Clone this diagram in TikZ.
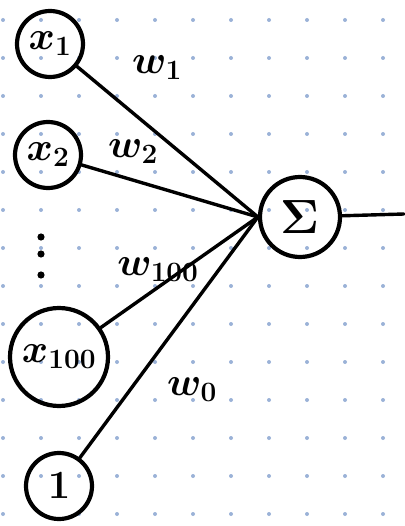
\RequirePackage{fix-cm}
\documentclass[tikz,border=0pt]{standalone}
\definecolor{gridblue}{RGB}{155,178,215}
\begin{document}
\begin{tikzpicture}
    [x=1pt, y=-1pt,
    unit/.style={draw, circle, line width=4.2pt, inner sep=0pt, font=\fontsize{40}{40}\selectfont\boldmath},
    weight/.style={font=\fontsize{40}{40}\selectfont\boldmath, inner sep=0pt},
    link/.style={line width=3.4pt, line cap=round}]
    \useasboundingbox (0,0) rectangle (404,526);
    % dotted paper
    \foreach \i in {0,...,10}
      \foreach \j in {0,...,13}
        \fill[gridblue] (3+38*\i, 20+38*\j) circle (2);
    %
    \node[unit, minimum size=66] (x1) at (50,44) {$x_1$};
    \node[unit, minimum size=66] (x2) at (48,155) {$x_2$};
    \node[unit, minimum size=98] (x100) at (59,357) {$x_{100}$};
    \node[unit, minimum size=66] (bias) at (59,486) {$1$};
    \node[unit, minimum size=80, font=\fontsize{48}{48}\selectfont\boldmath] (sum) at (300,217) {$\Sigma$};
    \coordinate (out) at (404,214);
    % vertical dots
    \foreach \y in {237,254,275}
      \fill (41,\y) circle (3.6);
    %
    \node[weight] (w1) at (157,68) {$w_1$};
    \node[weight] (w2) at (133,152) {$w_2$};
    \node[weight] (w100) at (158,270) {$w_{100}$};
    \node[weight] (w0) at (192,390) {$w_0$};
    %
    \draw[link] (x1) -- (sum.west);
    \draw[link] (x2) -- (sum.west);
    \draw[link] (x100) -- (sum.west);
    \draw[link] (bias) -- (sum.west);
    \draw[link] (sum) -- (out);
\end{tikzpicture}
\end{document}
